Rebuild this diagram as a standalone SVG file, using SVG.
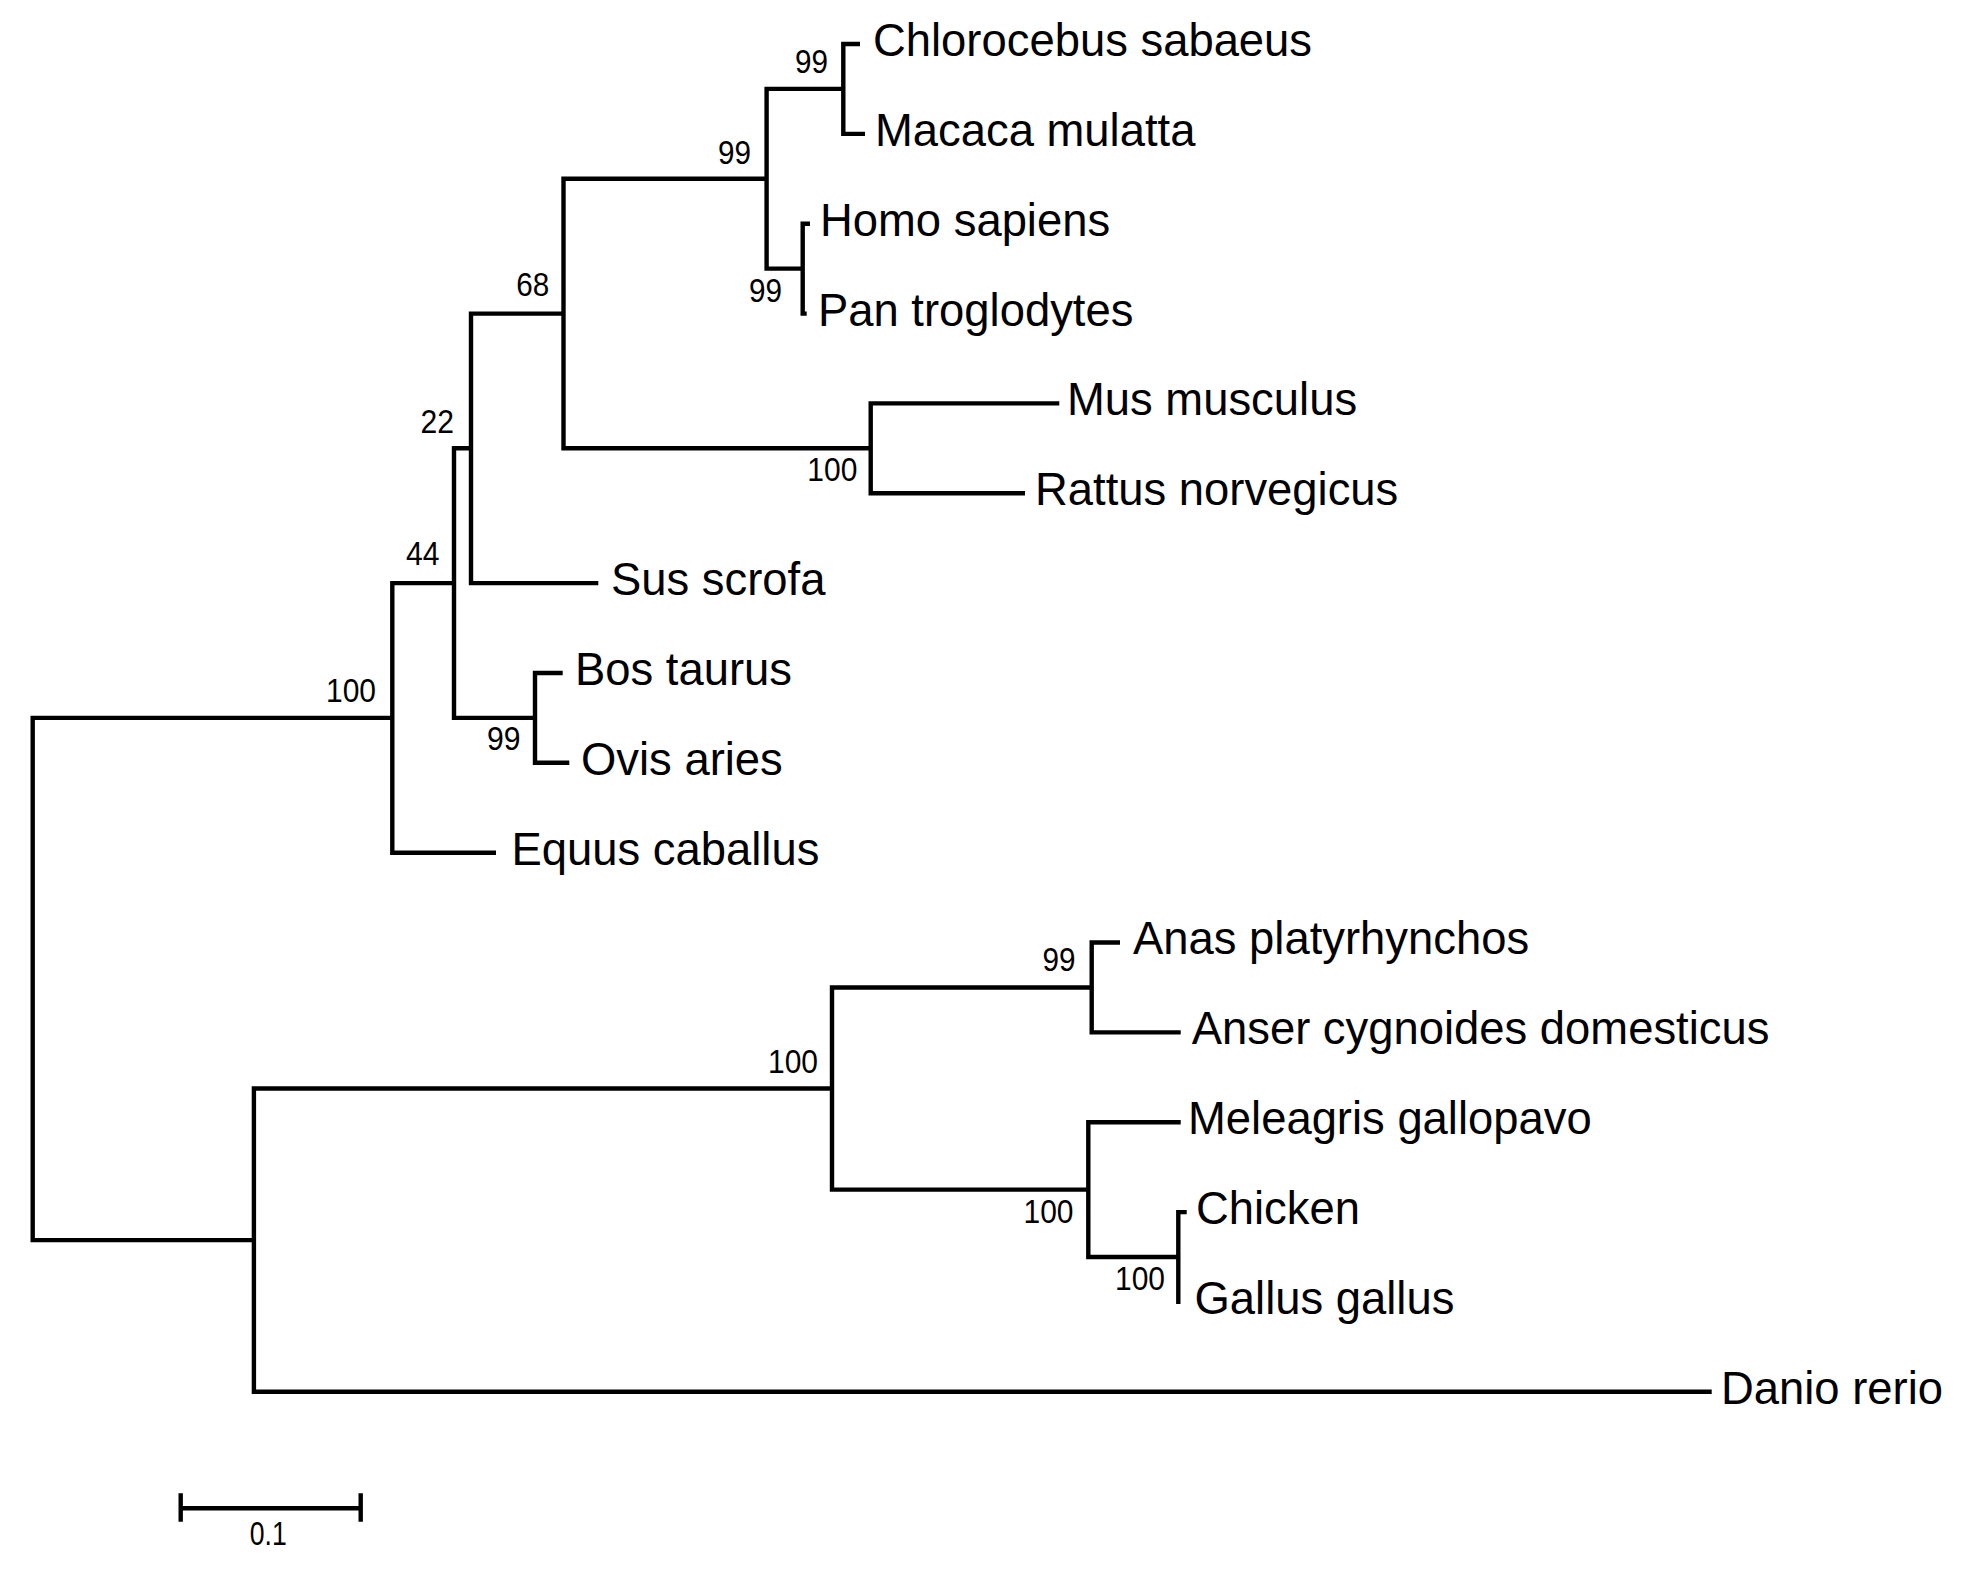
<svg xmlns="http://www.w3.org/2000/svg" width="1971" height="1579" viewBox="0 0 1971 1579">
<style>
.br{fill:none;stroke:#000;stroke-width:4.4;stroke-linejoin:miter;stroke-linecap:butt}
.lf{font-family:"Liberation Sans",Arial,sans-serif;font-size:45.4px;fill:#000}
.bs{font-family:"Liberation Sans",Arial,sans-serif;font-size:33px;fill:#000;text-anchor:end}
.sc{font-family:"Liberation Sans",Arial,sans-serif;font-size:33px;fill:#000;text-anchor:middle}
</style>
<rect width="1971" height="1579" fill="#fff"/>
<g id="connectors">
<path class="br" d="M392.3 717.9H32.7V1240.1H253.9"/>
<path class="br" d="M454 583.1H392.3V852.7H496"/>
<path class="br" d="M471 448.3H454V717.9H535"/>
<path class="br" d="M563.5 313.6H471V583.1H598.3"/>
<path class="br" d="M766.6 178.8H563.5V448.3H870.7"/>
<path class="br" d="M843.3 88.9H766.6V268.6H802.7"/>
<path class="br" d="M860 44H843.3V133.9H865"/>
<path class="br" d="M810 223.7H802.7V313.6H806.7"/>
<path class="br" d="M1059.3 403.4H870.7V493.3H1025"/>
<path class="br" d="M562.7 673H535V762.8H569.3"/>
<path class="br" d="M832 1088.5H253.9V1391.8H1711.7"/>
<path class="br" d="M1091.7 987.5H832V1189.6H1088.3"/>
<path class="br" d="M1120 942.5H1091.7V1032.4H1180.7"/>
<path class="br" d="M1180.7 1122.2H1088.3V1257H1178.3"/>
<path class="br" d="M1186.7 1212.1H1178.3V1303.9"/>
</g>
<g id="leaf-chlorocebus"><text class="lf" x="873" y="56">Chlorocebus sabaeus</text></g>
<g id="leaf-macaca"><text class="lf" x="875" y="146">Macaca mulatta</text></g>
<g id="leaf-homo"><text class="lf" x="820" y="236">Homo sapiens</text></g>
<g id="leaf-pan"><text class="lf" x="818" y="326">Pan troglodytes</text></g>
<g id="leaf-mus"><text class="lf" x="1067" y="415">Mus musculus</text></g>
<g id="leaf-rattus"><text class="lf" x="1035" y="505">Rattus norvegicus</text></g>
<g id="leaf-sus"><text class="lf" x="611" y="595">Sus scrofa</text></g>
<g id="leaf-bos"><text class="lf" x="575" y="685">Bos taurus</text></g>
<g id="leaf-ovis"><text class="lf" x="581" y="775">Ovis aries</text></g>
<g id="leaf-equus"><text class="lf" x="511.5" y="865">Equus caballus</text></g>
<g id="leaf-anas"><text class="lf" x="1133" y="954">Anas platyrhynchos</text></g>
<g id="leaf-anser"><text class="lf" x="1191.7" y="1044">Anser cygnoides domesticus</text></g>
<g id="leaf-meleagris"><text class="lf" x="1188" y="1134">Meleagris gallopavo</text></g>
<g id="leaf-chicken"><text class="lf" x="1196" y="1224">Chicken</text></g>
<g id="leaf-gallus"><text class="lf" x="1194.5" y="1314">Gallus gallus</text></g>
<g id="leaf-danio"><text class="lf" x="1721" y="1404">Danio rerio</text></g>
<g id="node-mammalia"><text class="bs" x="376" y="702" textLength="50" lengthAdjust="spacingAndGlyphs">100</text></g>
<g id="node-44"><text class="bs" x="439.5" y="565" textLength="33.5" lengthAdjust="spacingAndGlyphs">44</text></g>
<g id="node-22"><text class="bs" x="454" y="432.7" textLength="33.5" lengthAdjust="spacingAndGlyphs">22</text></g>
<g id="node-68"><text class="bs" x="549.3" y="296" textLength="33" lengthAdjust="spacingAndGlyphs">68</text></g>
<g id="node-primates"><text class="bs" x="751" y="163.5" textLength="33" lengthAdjust="spacingAndGlyphs">99</text></g>
<g id="node-chlorocebus-macaca"><text class="bs" x="828" y="72.7" textLength="33" lengthAdjust="spacingAndGlyphs">99</text></g>
<g id="node-homo-pan"><text class="bs" x="782" y="301.5" textLength="33" lengthAdjust="spacingAndGlyphs">99</text></g>
<g id="node-rodents"><text class="bs" x="857.3" y="481.2" textLength="50" lengthAdjust="spacingAndGlyphs">100</text></g>
<g id="node-bos-ovis"><text class="bs" x="520.5" y="750" textLength="33.5" lengthAdjust="spacingAndGlyphs">99</text></g>
<g id="node-birds-fish"></g>
<g id="node-birds"><text class="bs" x="818" y="1073.3" textLength="50" lengthAdjust="spacingAndGlyphs">100</text></g>
<g id="node-ducks"><text class="bs" x="1075.5" y="970.7" textLength="33" lengthAdjust="spacingAndGlyphs">99</text></g>
<g id="node-galliformes"><text class="bs" x="1073.5" y="1223.3" textLength="50" lengthAdjust="spacingAndGlyphs">100</text></g>
<g id="node-chicken-gallus"><text class="bs" x="1165" y="1290" textLength="50" lengthAdjust="spacingAndGlyphs">100</text></g>
<g id="scale-bar">
<path class="br" d="M180.7 1508.3H360.7M180.7 1493.3V1521.7M360.7 1493.3V1521.7"/>
<text class="sc" x="268.3" y="1545" textLength="37" lengthAdjust="spacingAndGlyphs">0.1</text>
</g>
</svg>
